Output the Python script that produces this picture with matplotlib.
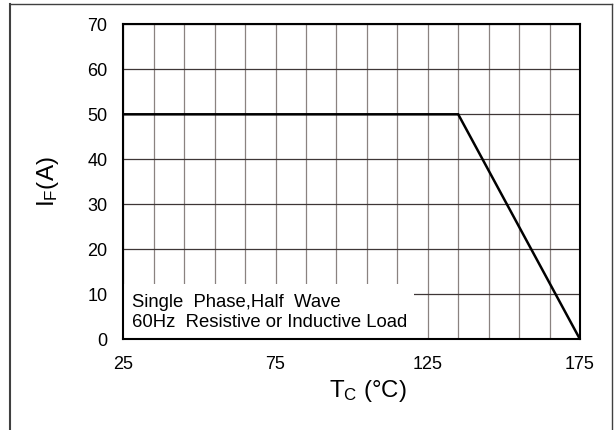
import matplotlib
matplotlib.use("Agg")
import matplotlib.pyplot as plt
from matplotlib.lines import Line2D
from matplotlib.patches import Rectangle

plt.rcParams["font.family"] = ["Liberation Sans", "DejaVu Sans"]
plt.rcParams["mathtext.fontset"] = "custom"
plt.rcParams["mathtext.rm"] = "Liberation Sans"

# derating curve: case temperature vs forward current
tc = [25, 135, 175]
i_f = [50, 50, 0]

x_grid = list(range(25, 176, 10))
x_labels = ["25", "75", "125", "175"]
y_ticks = list(range(0, 71, 10))
note_lines = ["Single  Phase,Half  Wave", "60Hz  Resistive or Inductive Load"]

fig = plt.figure(figsize=(6.14, 4.30), dpi=100)
ax = fig.add_axes([123.3 / 614, 1 - 339.3 / 430, 456.7 / 614, 315 / 430])

ax.plot(tc, i_f, color="black", linewidth=1.8, zorder=3, solid_joinstyle="miter")

ax.set_xlim(25, 175)
ax.set_ylim(0, 70)
ax.set_xticks(x_grid)
ax.set_xticklabels([str(v) if str(v) in x_labels else "" for v in x_grid])
ax.set_yticks(y_ticks)
ax.tick_params(axis="both", length=0, labelsize=13)
ax.tick_params(axis="x", pad=12)
ax.tick_params(axis="y", pad=11.5)

ax.set_axisbelow(True)
ax.xaxis.grid(True, color="#8a8280", linewidth=0.9)
ax.yaxis.grid(True, color="#3e3636", linewidth=0.9)

for sp in ax.spines.values():
    sp.set_linewidth(1.5)
    sp.set_color("black")

# white note box hiding the grid
ax.add_patch(Rectangle((25, 0), 95.5, 12.4, facecolor="white", edgecolor="none", zorder=1))
ax.text(27.8, 7.2, note_lines[0], fontsize=13.3, va="baseline", ha="left", zorder=4)
ax.text(27.8, 2.8, note_lines[1], fontsize=13.3, va="baseline", ha="left", zorder=4)

ax.set_xlabel(r"T$\mathregular{_C}$ (°C)", fontsize=17.3)
ax.xaxis.set_label_coords(0.536, -0.124)
ax.set_ylabel(r"I$\mathregular{_F}$(A)", fontsize=17.5)
ax.yaxis.set_label_coords(-0.136, 0.5)

# outer frame of the figure
fc = "#404040"
fig.add_artist(Line2D([10 / 614, 612 / 614], [1 - 4 / 430, 1 - 4 / 430], color=fc, linewidth=1.0, transform=fig.transFigure))
fig.add_artist(Line2D([10 / 614, 10 / 614], [0, 1 - 4 / 430], color=fc, linewidth=1.5, transform=fig.transFigure))
fig.add_artist(Line2D([612 / 614, 612 / 614], [0, 1 - 4 / 430], color=fc, linewidth=1.0, transform=fig.transFigure))

fig.savefig("out.png", dpi=100)
